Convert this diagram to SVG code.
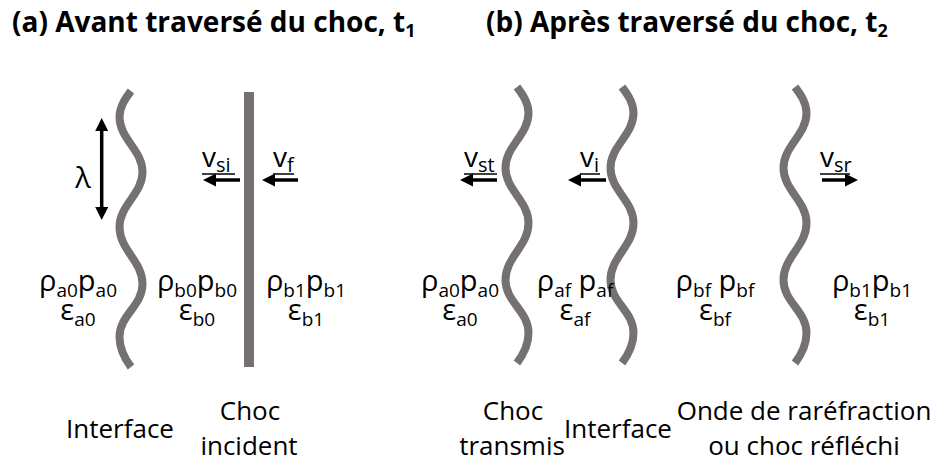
<svg xmlns="http://www.w3.org/2000/svg" xmlns:xlink="http://www.w3.org/1999/xlink" width="936" height="465" viewBox="0 0 936 465">
<style>
text{font-family:"Open Sans","Liberation Sans",sans-serif;fill:#000}
.t{font-size:28px;font-weight:bold}
.ts{font-size:18px;font-weight:bold}
.m{font-size:29px}
.s{font-size:19px}
.v{font-size:28px}
.vs{font-size:20px}
.lb{font-size:26px}
.w{fill:none;stroke:#767171;stroke-width:8}
.ar{fill:none;stroke:#000;stroke-width:3.5;marker-end:url(#ah)}
.ul{stroke:#000;stroke-width:1.5}
</style>
<defs>
<marker id="ah" markerUnits="userSpaceOnUse" markerWidth="14" markerHeight="14" refX="2" refY="6.5" orient="auto-start-reverse"><path d="M0,0 L13,6.5 L0,13 z" fill="#000"/></marker>
<path id="wv" d="M0,87 C6,95 11.5,103 11.5,113 C11.5,135 -11.5,146 -11.5,168 C-11.5,190 11.5,201 11.5,223 C11.5,246 -11.5,257 -11.5,280 C-11.5,302 11.5,311 11.5,333 C11.5,346 6,355 0,363"/>
</defs>

<g id="titles">
<text class="t" x="12" y="32">(a) Avant traversé du choc, t<tspan class="ts" dy="5">1</tspan></text>
<text class="t" x="486" y="32">(b) Après traversé du choc, t<tspan class="ts" dy="5">2</tspan></text>
</g>

<g id="panel-a">
<g id="interface-a"><use xlink:href="#wv" class="w" transform="translate(131,4) scale(-1,1)"/></g>
<g id="choc-incident"><rect x="244" y="92" width="10" height="275" fill="#767171"/></g>
<g id="lambda">
<line x1="101.7" y1="129" x2="101.7" y2="209" stroke="#000" stroke-width="3.5" marker-start="url(#ah)" marker-end="url(#ah)"/>
<text class="m" x="83" y="188" text-anchor="middle">λ</text>
</g>
<g id="zone-a0"><text class="m" text-anchor="middle"><tspan x="78" y="291">ρ</tspan><tspan class="s" dy="6">a0</tspan><tspan dy="-6">p</tspan><tspan class="s" dy="6">a0</tspan><tspan x="78" y="320">ε</tspan><tspan class="s" dy="6">a0</tspan></text></g>
<g id="zone-b0"><text class="m" text-anchor="middle"><tspan x="197" y="291">ρ</tspan><tspan class="s" dy="6">b0</tspan><tspan dy="-6">p</tspan><tspan class="s" dy="6">b0</tspan><tspan x="197" y="320">ε</tspan><tspan class="s" dy="6">b0</tspan></text></g>
<g id="zone-b1-a"><text class="m" text-anchor="middle"><tspan x="306" y="291">ρ</tspan><tspan class="s" dy="6">b1</tspan><tspan dy="-6">p</tspan><tspan class="s" dy="6">b1</tspan><tspan x="306" y="320">ε</tspan><tspan class="s" dy="6">b1</tspan></text></g>
<g id="labels-a">
<text class="lb" x="120" y="438" text-anchor="middle">Interface</text>
<text class="lb" text-anchor="middle"><tspan x="250" y="420">Choc</tspan><tspan x="249" y="455">incident</tspan></text>
</g>
</g>

<g id="panel-b">
<g id="choc-transmis"><use xlink:href="#wv" class="w" transform="translate(517,0)"/></g>
<g id="interface-b"><use xlink:href="#wv" class="w" transform="translate(622,0)"/></g>
<g id="onde-reflechie"><use xlink:href="#wv" class="w" transform="translate(795,0)"/></g>
<g id="zone-a0-b"><text class="m" text-anchor="middle"><tspan x="460" y="291">ρ</tspan><tspan class="s" dy="6">a0</tspan><tspan dy="-6">p</tspan><tspan class="s" dy="6">a0</tspan><tspan x="460" y="320">ε</tspan><tspan class="s" dy="6">a0</tspan></text></g>
<g id="zone-af"><text class="m" text-anchor="middle"><tspan x="575" y="291">ρ</tspan><tspan class="s" dy="6">af</tspan><tspan dy="-6"> p</tspan><tspan class="s" dy="6">af</tspan><tspan x="575" y="320">ε</tspan><tspan class="s" dy="6">af</tspan></text></g>
<g id="zone-bf"><text class="m" text-anchor="middle"><tspan x="715" y="291">ρ</tspan><tspan class="s" dy="6">bf</tspan><tspan dy="-6"> p</tspan><tspan class="s" dy="6">bf</tspan><tspan x="715" y="320">ε</tspan><tspan class="s" dy="6">bf</tspan></text></g>
<g id="zone-b1-b"><text class="m" text-anchor="middle"><tspan x="872" y="291">ρ</tspan><tspan class="s" dy="6">b1</tspan><tspan dy="-6">p</tspan><tspan class="s" dy="6">b1</tspan><tspan x="872" y="320">ε</tspan><tspan class="s" dy="6">b1</tspan></text></g>
<g id="labels-b">
<text class="lb" text-anchor="middle"><tspan x="513" y="420">Choc</tspan><tspan x="512" y="455">transmis</tspan></text>
<text class="lb" x="618" y="438" text-anchor="middle">Interface</text>
<text class="lb" text-anchor="middle"><tspan x="804" y="420">Onde de raréfraction</tspan><tspan x="804" y="455">ou choc réfléchi</tspan></text>
</g>
</g>

<g id="connectors">
<line class="ar" x1="240" y1="180" x2="214" y2="180"/>
<line class="ar" x1="298" y1="180" x2="273" y2="180"/>
<line class="ar" x1="497" y1="180" x2="471" y2="180"/>
<line class="ar" x1="606" y1="180" x2="579" y2="180"/>
<line class="ar" x1="822" y1="180" x2="847" y2="180"/>
</g>

<g id="velocity-labels">
<text class="v" x="202" y="167">v<tspan class="vs" dy="5">si</tspan></text>
<text class="v" x="273" y="167">v<tspan class="vs" dy="5">f</tspan></text>
<text class="v" x="464" y="167">v<tspan class="vs" dy="5">st</tspan></text>
<text class="v" x="580" y="167">v<tspan class="vs" dy="5">i</tspan></text>
<text class="v" x="820" y="167">v<tspan class="vs" dy="5">sr</tspan></text>
<line class="ul" x1="202" y1="174" x2="235" y2="174"/>
<line class="ul" x1="273" y1="174" x2="294" y2="174"/>
<line class="ul" x1="464" y1="174" x2="497" y2="174"/>
<line class="ul" x1="580" y1="174" x2="600" y2="174"/>
<line class="ul" x1="820" y1="174" x2="850" y2="174"/>
</g>
</svg>
